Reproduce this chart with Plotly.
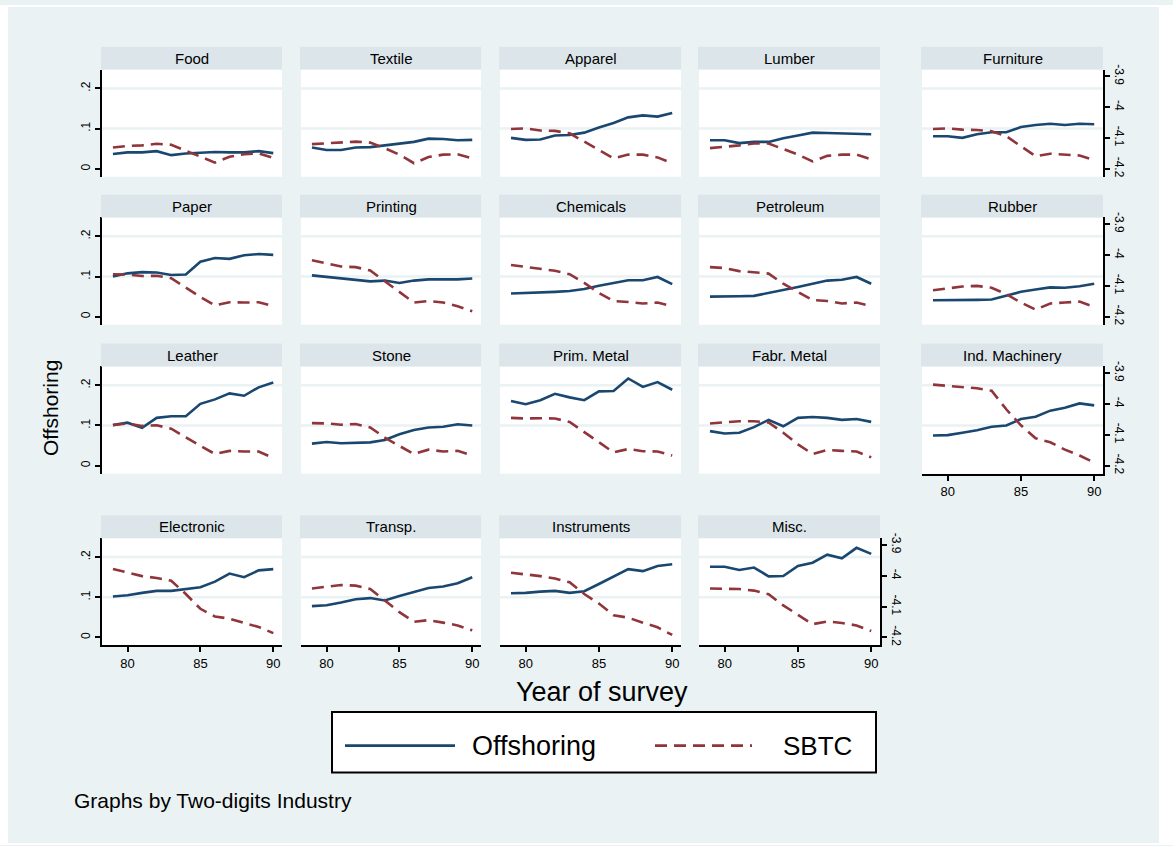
import plotly.graph_objects as go

years = [79, 80, 81, 82, 83, 84, 85, 86, 87, 88, 89, 90]
x_ticks = [80, 85, 90]
left_ticks = [0, 0.1, 0.2]
left_ticktext = ["0", ".1", ".2"]
right_ticks = [-4.2, -4.1, -4.0, -3.9]
right_ticktext = ["-4.2", "-4.1", "-4", "-3.9"]

industries = ["Food", "Textile", "Apparel", "Lumber", "Furniture",
              "Paper", "Printing", "Chemicals", "Petroleum", "Rubber",
              "Leather", "Stone", "Prim. Metal", "Fabr. Metal", "Ind. Machinery",
              "Electronic", "Transp.", "Instruments", "Misc."]

off_food = [0.037, 0.041, 0.041, 0.044, 0.034, 0.038, 0.040, 0.042, 0.041, 0.041, 0.044, 0.039]
sbtc_food = [-4.131, -4.126, -4.124, -4.119, -4.122, -4.141, -4.161, -4.180, -4.161, -4.153, -4.150, -4.165]
off_textile = [0.053, 0.047, 0.047, 0.053, 0.054, 0.058, 0.063, 0.067, 0.075, 0.074, 0.071, 0.072]
sbtc_textile = [-4.120, -4.118, -4.116, -4.112, -4.115, -4.133, -4.154, -4.182, -4.162, -4.154, -4.153, -4.166]
off_apparel = [0.077, 0.072, 0.073, 0.083, 0.084, 0.090, 0.103, 0.114, 0.128, 0.133, 0.130, 0.139]
sbtc_apparel = [-4.071, -4.069, -4.076, -4.077, -4.085, -4.112, -4.139, -4.166, -4.154, -4.154, -4.163, -4.182]
off_lumber = [0.071, 0.071, 0.064, 0.067, 0.067, 0.076, 0.083, 0.090, 0.089, 0.088, 0.087, 0.086]
sbtc_lumber = [-4.133, -4.129, -4.124, -4.118, -4.118, -4.136, -4.154, -4.176, -4.158, -4.154, -4.154, -4.169]
off_furniture = [0.081, 0.081, 0.077, 0.086, 0.091, 0.091, 0.104, 0.109, 0.112, 0.109, 0.112, 0.111]
sbtc_furniture = [-4.071, -4.069, -4.073, -4.074, -4.078, -4.094, -4.127, -4.159, -4.151, -4.153, -4.157, -4.172]
off_paper = [0.100, 0.108, 0.111, 0.110, 0.104, 0.105, 0.137, 0.146, 0.144, 0.153, 0.156, 0.154]
sbtc_paper = [-4.062, -4.063, -4.068, -4.067, -4.075, -4.105, -4.136, -4.163, -4.153, -4.154, -4.153, -4.166]
off_printing = [0.103, 0.099, 0.095, 0.092, 0.088, 0.090, 0.084, 0.090, 0.093, 0.093, 0.093, 0.095]
sbtc_printing = [-4.017, -4.026, -4.037, -4.039, -4.050, -4.085, -4.120, -4.154, -4.149, -4.154, -4.166, -4.182]
off_chemicals = [0.058, 0.059, 0.060, 0.062, 0.064, 0.069, 0.077, 0.084, 0.091, 0.091, 0.099, 0.081]
sbtc_chemicals = [-4.032, -4.039, -4.045, -4.051, -4.062, -4.090, -4.123, -4.149, -4.152, -4.157, -4.154, -4.166]
off_petroleum = [0.050, 0.050, 0.051, 0.052, 0.059, 0.066, 0.074, 0.082, 0.090, 0.092, 0.099, 0.082]
sbtc_petroleum = [-4.039, -4.042, -4.052, -4.055, -4.060, -4.093, -4.120, -4.146, -4.149, -4.157, -4.154, -4.166]
off_rubber = [0.041, 0.041, 0.041, 0.042, 0.043, 0.053, 0.062, 0.068, 0.073, 0.072, 0.076, 0.082]
sbtc_rubber = [-4.114, -4.107, -4.102, -4.100, -4.106, -4.127, -4.154, -4.177, -4.157, -4.154, -4.151, -4.168]
off_leather = [0.101, 0.107, 0.094, 0.119, 0.123, 0.123, 0.154, 0.165, 0.180, 0.174, 0.195, 0.207]
sbtc_leather = [-4.068, -4.063, -4.071, -4.069, -4.080, -4.109, -4.136, -4.162, -4.152, -4.154, -4.154, -4.175]
off_stone = [0.055, 0.059, 0.056, 0.057, 0.058, 0.064, 0.078, 0.089, 0.095, 0.097, 0.103, 0.100]
sbtc_stone = [-4.062, -4.063, -4.067, -4.065, -4.076, -4.109, -4.136, -4.162, -4.148, -4.154, -4.152, -4.167]
off_primmetal = [0.161, 0.153, 0.163, 0.179, 0.170, 0.163, 0.185, 0.186, 0.217, 0.196, 0.208, 0.189]
sbtc_primmetal = [-4.045, -4.047, -4.046, -4.047, -4.058, -4.090, -4.124, -4.157, -4.146, -4.153, -4.154, -4.167]
off_fabrmetal = [0.086, 0.080, 0.082, 0.096, 0.114, 0.098, 0.119, 0.121, 0.119, 0.114, 0.116, 0.109]
sbtc_fabrmetal = [-4.063, -4.059, -4.056, -4.056, -4.060, -4.093, -4.131, -4.162, -4.149, -4.152, -4.154, -4.173]
off_indmach = [0.075, 0.076, 0.082, 0.088, 0.097, 0.100, 0.116, 0.122, 0.137, 0.144, 0.155, 0.150]
sbtc_indmach = [-3.937, -3.941, -3.945, -3.949, -3.957, -4.017, -4.069, -4.111, -4.124, -4.148, -4.167, -4.190]
off_electronic = [0.102, 0.105, 0.111, 0.116, 0.116, 0.120, 0.125, 0.139, 0.159, 0.150, 0.167, 0.170]
sbtc_electronic = [-3.978, -3.990, -4.001, -4.007, -4.016, -4.059, -4.107, -4.132, -4.139, -4.153, -4.166, -4.186]
off_transp = [0.078, 0.080, 0.087, 0.095, 0.098, 0.092, 0.103, 0.113, 0.123, 0.127, 0.135, 0.150]
sbtc_transp = [-4.041, -4.035, -4.030, -4.032, -4.043, -4.080, -4.118, -4.149, -4.144, -4.152, -4.161, -4.177]
off_instruments = [0.110, 0.111, 0.114, 0.116, 0.111, 0.115, 0.133, 0.151, 0.170, 0.165, 0.178, 0.182]
sbtc_instruments = [-3.990, -3.995, -4.001, -4.009, -4.021, -4.059, -4.090, -4.128, -4.136, -4.152, -4.167, -4.192]
off_misc = [0.176, 0.176, 0.168, 0.174, 0.152, 0.153, 0.178, 0.186, 0.206, 0.197, 0.223, 0.208]
sbtc_misc = [-4.041, -4.041, -4.043, -4.048, -4.060, -4.096, -4.126, -4.157, -4.148, -4.153, -4.161, -4.179]

offshoring_series = [off_food, off_textile, off_apparel, off_lumber, off_furniture,
                     off_paper, off_printing, off_chemicals, off_petroleum, off_rubber,
                     off_leather, off_stone, off_primmetal, off_fabrmetal, off_indmach,
                     off_electronic, off_transp, off_instruments, off_misc]
sbtc_series = [sbtc_food, sbtc_textile, sbtc_apparel, sbtc_lumber, sbtc_furniture,
               sbtc_paper, sbtc_printing, sbtc_chemicals, sbtc_petroleum, sbtc_rubber,
               sbtc_leather, sbtc_stone, sbtc_primmetal, sbtc_fabrmetal, sbtc_indmach,
               sbtc_electronic, sbtc_transp, sbtc_instruments, sbtc_misc]

# ---- layout geometry (pixels) ----
W, H = 1173, 846
BG = "#EAF2F3"
STRIP = "#DCE6EA"
NAVY = "#1A476F"
MAROON = "#90353B"
FONT = "Liberation Sans, Arial, sans-serif"

cols = [(102, 282), (301, 481), (500, 681), (699, 880), (922, 1103)]
rows = [(65, 173), (214, 322), (364, 472), (537, 645)]
XR = [78.25, 90.6]
LR = [-0.0198, 0.247]
RR = [-4.2259, -3.878]


def fx(p):
    return p / W


def fy(p):
    return 1 - p / H


fig = go.Figure()
shapes = []
annotations = []
n = len(industries)
layout = {}

for k, name in enumerate(industries):
    r, c = divmod(k, 5)
    x0, x1 = cols[c]
    ytop, ybot = rows[r]
    xi = k + 1
    li = k + 1
    ri = n + k + 1
    xname = "x" if xi == 1 else f"x{xi}"
    lname = "y" if li == 1 else f"y{li}"
    rname = f"y{ri}"
    xkey = "xaxis" if xi == 1 else f"xaxis{xi}"
    lkey = "yaxis" if li == 1 else f"yaxis{li}"
    rkey = f"yaxis{ri}"

    show_x = (r == 3) or (name == "Ind. Machinery")
    show_left = (c == 0)
    show_right = (c == 4) or (name == "Misc.")

    layout[xkey] = dict(
        domain=[fx(x0), fx(x1)], anchor=lname, range=XR,
        showgrid=False, zeroline=False,
        showline=show_x, linecolor="black", linewidth=2,
        ticks="outside" if show_x else "", ticklen=5, tickwidth=2, tickcolor="black",
        tickvals=x_ticks, showticklabels=show_x,
        tickfont=dict(size=13, color="black", family=FONT),
    )
    layout[lkey] = dict(
        domain=[fy(ybot), fy(ytop)], anchor=xname, range=LR,
        showgrid=False, zeroline=False,
        showline=show_left, linecolor="black", linewidth=2,
        ticks="outside" if show_left else "", ticklen=5, tickwidth=2, tickcolor="black",
        tickvals=left_ticks, ticktext=left_ticktext, showticklabels=show_left,
        tickangle=-90, tickfont=dict(size=12, color="black", family=FONT),
    )
    layout[rkey] = dict(
        overlaying=lname, side="right", anchor=xname, range=RR,
        showgrid=False, zeroline=False,
        showline=show_right, linecolor="black", linewidth=2,
        ticks="outside" if show_right else "", ticklen=5, tickwidth=2, tickcolor="black",
        tickvals=right_ticks, ticktext=right_ticktext, showticklabels=show_right,
        tickangle=90, tickfont=dict(size=12, color="black", family=FONT),
    )

    # gridlines at .1 and .2
    for gv in (0.1, 0.2):
        shapes.append(dict(type="line", xref=f"{xname} domain", yref=lname,
                           x0=0, x1=1, y0=gv, y1=gv, layer="below",
                           line=dict(color=BG, width=2.5)))
    # strip header
    shapes.append(dict(type="rect", xref="paper", yref="paper",
                       x0=fx(x0 - 1), x1=fx(x1), y0=fy(ytop), y1=fy(ytop - 23),
                       fillcolor=STRIP, line=dict(width=0), layer="above"))
    annotations.append(dict(text=name, x=fx((x0 + x1) / 2), y=fy(ytop - 11.5),
                            xref="paper", yref="paper", showarrow=False,
                            xanchor="center", yanchor="middle",
                            font=dict(size=15, color="black", family=FONT)))

    fig.add_trace(go.Scatter(x=years, y=offshoring_series[k], xaxis=xname, yaxis=lname,
                             mode="lines", name="Offshoring", showlegend=False,
                             line=dict(color=NAVY, width=2.6)))
    fig.add_trace(go.Scatter(x=years, y=sbtc_series[k], xaxis=xname, yaxis=rname,
                             mode="lines", name="SBTC", showlegend=False,
                             line=dict(color=MAROON, width=2.6, dash="12px,7px")))

# white outer frame edges
for (a, b, c_, d) in [(0, 8, 0, H), (1159, W, 0, H), (0, W, 0, 2), (0, W, 844, H)]:
    shapes.append(dict(type="rect", xref="paper", yref="paper",
                       x0=fx(a), x1=fx(b), y0=fy(d), y1=fy(c_),
                       fillcolor="white", line=dict(width=0), layer="above"))

# legend box
shapes.append(dict(type="rect", xref="paper", yref="paper",
                   x0=fx(332), x1=fx(876), y0=fy(773), y1=fy(712),
                   fillcolor="white", line=dict(color="black", width=2)))
shapes.append(dict(type="line", xref="paper", yref="paper",
                   x0=fx(345), x1=fx(455), y0=fy(746), y1=fy(746),
                   line=dict(color=NAVY, width=2.8)))
shapes.append(dict(type="line", xref="paper", yref="paper",
                   x0=fx(655), x1=fx(752), y0=fy(746), y1=fy(746),
                   line=dict(color=MAROON, width=2.8, dash="12px,7px")))
annotations.append(dict(text="Offshoring", x=fx(470), y=fy(746), xref="paper", yref="paper",
                        showarrow=False, xanchor="left", yanchor="middle",
                        font=dict(size=27, color="black", family=FONT)))
annotations.append(dict(text="SBTC", x=fx(781), y=fy(746), xref="paper", yref="paper",
                        showarrow=False, xanchor="left", yanchor="middle",
                        font=dict(size=26, color="black", family=FONT)))

# titles / notes
annotations.append(dict(text="Year of survey", x=fx(602), y=fy(692), xref="paper", yref="paper",
                        showarrow=False, xanchor="center", yanchor="middle",
                        font=dict(size=27, color="black", family=FONT)))
annotations.append(dict(text="Offshoring", x=fx(50), y=fy(406), xref="paper", yref="paper",
                        showarrow=False, xanchor="center", yanchor="middle", textangle=-90,
                        font=dict(size=21, color="black", family=FONT)))
annotations.append(dict(text="Graphs by Two-digits Industry", x=fx(72), y=fy(801),
                        xref="paper", yref="paper", showarrow=False,
                        xanchor="left", yanchor="middle",
                        font=dict(size=21, color="black", family=FONT)))

fig.update_layout(
    width=W, height=H,
    margin=dict(l=0, r=0, t=0, b=0),
    paper_bgcolor=BG, plot_bgcolor="white",
    showlegend=False,
    font=dict(family=FONT, color="black"),
    shapes=shapes, annotations=annotations,
    **layout,
)

fig.write_html("out.html", config={"displayModeBar": False},
               post_script="document.body.style.margin='0px';")
